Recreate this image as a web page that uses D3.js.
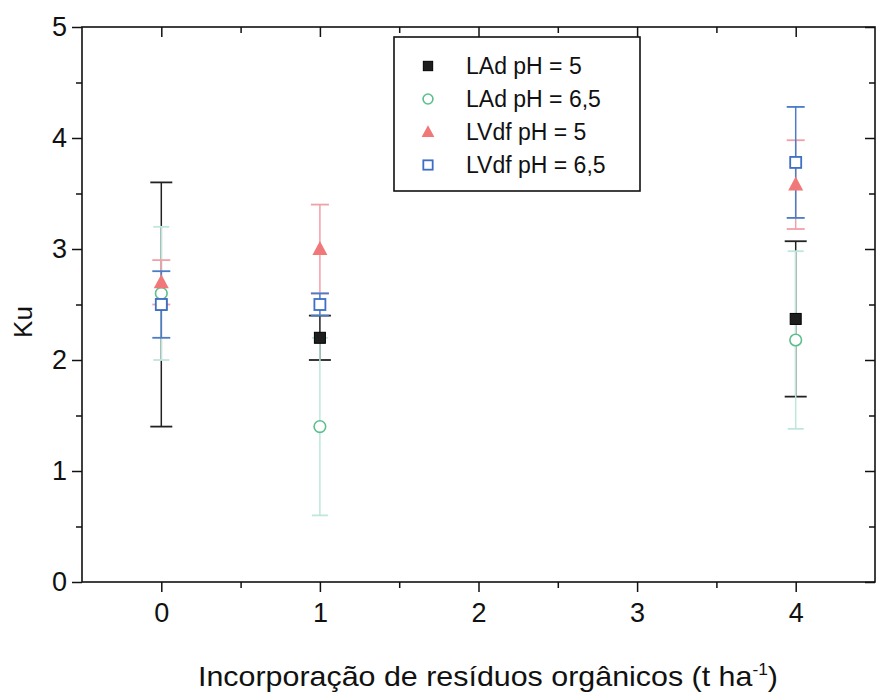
<!DOCTYPE html>
<html><head><meta charset="utf-8">
<script src="https://cdn.jsdelivr.net/npm/d3@7"></script>
<style>body{margin:0;background:#fff}svg{display:block;font-family:"Liberation Sans",Arial,sans-serif}</style>
</head><body><svg id="c" width="879" height="692"></svg>
<script>
const xValues = [0, 1, 4];
const seriesNames = ["LAd pH = 5", "LAd pH = 6,5", "LVdf pH = 5", "LVdf pH = 6,5"];
const ladPh5 = [2.5, 2.2, 2.37];
const ladPh5Err = [1.1, 0.2, 0.7];
const ladPh65 = [2.6, 1.4, 2.18];
const ladPh65Err = [0.6, 0.8, 0.8];
const lvdfPh5 = [2.7, 3.0, 3.58];
const lvdfPh5Err = [0.2, 0.4, 0.4];
const lvdfPh65 = [2.5, 2.5, 3.78];
const lvdfPh65Err = [0.3, 0.1, 0.5];
const xTicks = [0, 1, 2, 3, 4];
const yTicks = [0, 1, 2, 3, 4, 5];

const series = [
  {name: seriesNames[0], v: ladPh5, e: ladPh5Err, shape: "fsquare", color: "#1e1e1e", ebar: "#222", capW: 22},
  {name: seriesNames[1], v: ladPh65, e: ladPh65Err, shape: "circle", color: "#5cbf8c", ebar: "#bfe6dd", capW: 16},
  {name: seriesNames[2], v: lvdfPh5, e: lvdfPh5Err, shape: "triangle", color: "#f07878", ebar: "#f2a0a8", capW: 18},
  {name: seriesNames[3], v: lvdfPh65, e: lvdfPh65Err, shape: "osquare", color: "#3d6fc4", ebar: "#4a7cc8", capW: 18}
];

const svg = d3.select("#c");
const L = 82, R = 875, T = 27, B = 582;
const x = d3.scaleLinear().domain([-0.5, 4.5]).range([L, R]);
const y = d3.scaleLinear().domain([0, 5]).range([B, T]);

svg.append("rect").attr("x", L).attr("y", T).attr("width", R - L).attr("height", B - T)
  .attr("fill", "none").attr("stroke", "#111").attr("stroke-width", 1.6);

const minorX = d3.range(-0.5, 4.51, 0.5).filter(d => !xTicks.includes(d) && d > -0.5 && d < 4.5);
const minorY = d3.range(0.5, 5, 1);

function styleAxis(g, hideText) {
  g.select(".domain").remove();
  g.selectAll("line").attr("stroke", "#111").attr("stroke-width", 1.5);
  g.selectAll("text").attr("fill", "#111").attr("font-size", 27);
  if (hideText) g.selectAll("text").remove();
}
svg.append("g").attr("transform", `translate(0,${B})`)
  .call(d3.axisBottom(x).tickValues(xTicks).tickSize(10).tickPadding(11).tickFormat(d3.format("d")))
  .call(g => styleAxis(g));
svg.append("g").attr("transform", `translate(0,${B})`)
  .call(d3.axisBottom(x).tickValues(minorX).tickSize(6).tickFormat(""))
  .call(g => styleAxis(g, true));
svg.append("g").attr("transform", `translate(${L},0)`)
  .call(d3.axisLeft(y).tickValues(yTicks).tickSize(10).tickPadding(5).tickFormat(d3.format("d")))
  .call(g => styleAxis(g));
svg.append("g").attr("transform", `translate(${L},0)`)
  .call(d3.axisLeft(y).tickValues(minorY).tickSize(6).tickFormat(""))
  .call(g => styleAxis(g, true));
svg.append("g").attr("transform", `translate(0,${T})`)
  .call(d3.axisBottom(x).tickValues(xTicks).tickSize(10).tickFormat(""))
  .call(g => styleAxis(g, true));
svg.append("g").attr("transform", `translate(0,${T})`)
  .call(d3.axisBottom(x).tickValues(minorX).tickSize(6).tickFormat(""))
  .call(g => styleAxis(g, true));
svg.append("g").attr("transform", `translate(${R},0)`)
  .call(d3.axisLeft(y).tickValues(yTicks).tickSize(10).tickFormat(""))
  .call(g => styleAxis(g, true));
svg.append("g").attr("transform", `translate(${R},0)`)
  .call(d3.axisLeft(y).tickValues(minorY).tickSize(6).tickFormat(""))
  .call(g => styleAxis(g, true));

svg.append("text").attr("transform", `translate(32,322) rotate(-90)`)
  .attr("text-anchor", "middle").attr("font-size", 26).attr("fill", "#111").text("Ku");
const xt = svg.append("text").attr("x", 488).attr("y", 686).attr("text-anchor", "middle")
  .attr("font-size", 28).attr("fill", "#111")
  .attr("textLength", 580).attr("lengthAdjust", "spacingAndGlyphs");
xt.append("tspan").text("Incorporação de resíduos orgânicos (t ha");
xt.append("tspan").attr("dy", -11).attr("font-size", 16).text("-1");
xt.append("tspan").attr("dy", 11).text(")");

function drawMarker(g, s, cx, cy, scale) {
  const k = scale || 1;
  if (s.shape === "fsquare") {
    g.append("rect").attr("x", cx - 5.5 * k).attr("y", cy - 5.5 * k).attr("width", 11 * k).attr("height", 11 * k)
      .attr("fill", s.color).attr("stroke", "#000").attr("stroke-width", 1);
  } else if (s.shape === "osquare") {
    g.append("rect").attr("x", cx - 5.5 * k).attr("y", cy - 5.5 * k).attr("width", 11 * k).attr("height", 11 * k)
      .attr("fill", "#fff").attr("stroke", s.color).attr("stroke-width", 1.8);
  } else if (s.shape === "circle") {
    g.append("circle").attr("cx", cx).attr("cy", cy).attr("r", 5.8 * k)
      .attr("fill", "#fff").attr("stroke", s.color).attr("stroke-width", 1.6);
  } else {
    g.append("path").attr("d", `M${cx},${cy - 8 * k}L${cx + 7.5 * k},${cy + 6 * k}L${cx - 7.5 * k},${cy + 6 * k}Z`)
      .attr("fill", s.color);
  }
}

const eg = svg.append("g");
series.forEach(s => {
  xValues.forEach((xv, i) => {
    const cx = x(xv), lo = y(s.v[i] - s.e[i]), hi = y(s.v[i] + s.e[i]);
    eg.append("line").attr("x1", cx).attr("x2", cx).attr("y1", lo).attr("y2", hi)
      .attr("stroke", s.ebar).attr("stroke-width", 1.5);
    [lo, hi].forEach(yy => eg.append("line").attr("x1", cx - s.capW / 2).attr("x2", cx + s.capW / 2)
      .attr("y1", yy).attr("y2", yy).attr("stroke", s.ebar).attr("stroke-width", 1.8));
  });
});
const mg = svg.append("g");
series.forEach(s => {
  xValues.forEach((xv, i) => drawMarker(mg, s, x(xv), y(s.v[i])));
});

const lg = svg.append("g");
lg.append("rect").attr("x", 394).attr("y", 37).attr("width", 246).attr("height", 154)
  .attr("fill", "#fff").attr("stroke", "#111").attr("stroke-width", 1.6);
const legendY = [66, 99, 132, 165];
series.forEach((s, i) => {
  const ly = legendY[i];
  drawMarker(lg, s, 428, ly, 0.85);
  lg.append("text").attr("x", 466).attr("y", ly + 8).attr("font-size", 23).attr("fill", "#111").text(s.name);
});
</script></body></html>
